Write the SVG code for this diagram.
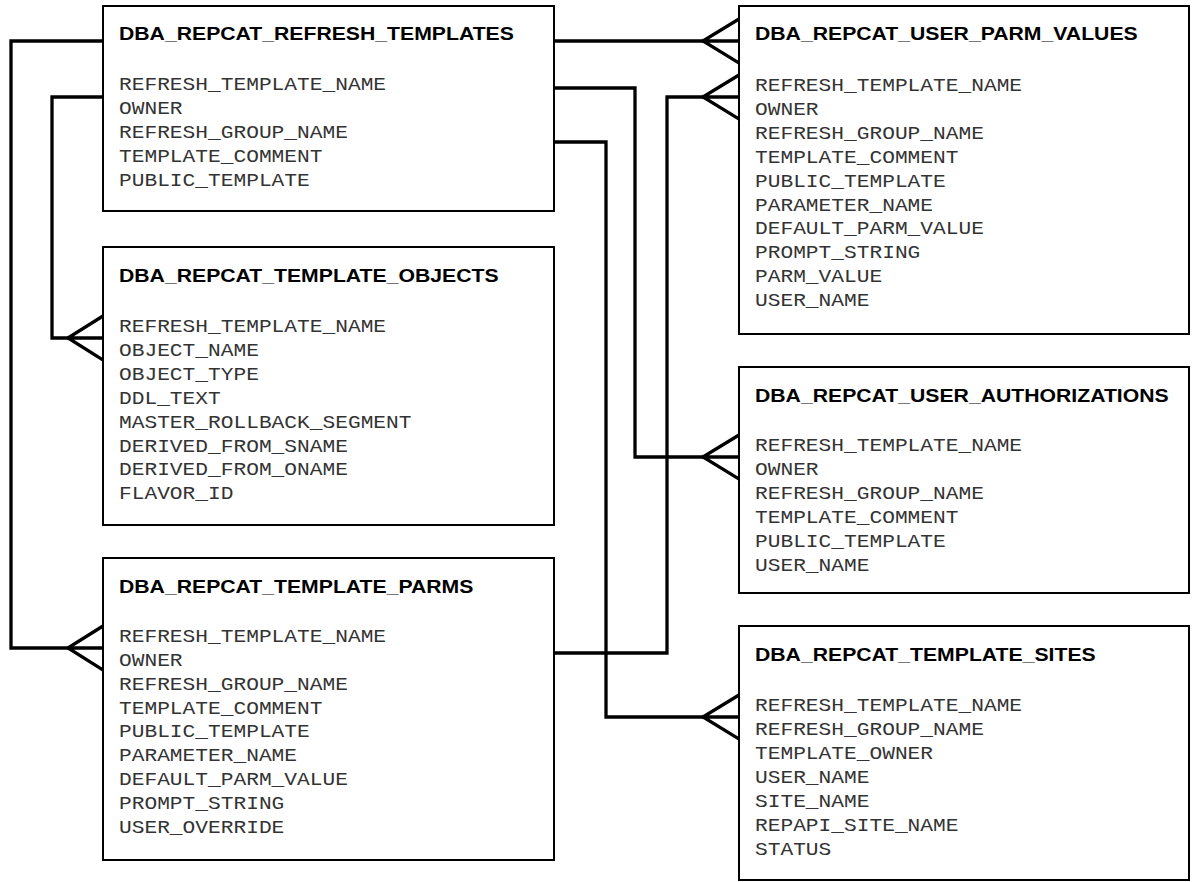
<svg xmlns="http://www.w3.org/2000/svg" width="1192" height="882" viewBox="0 0 1192 882">
<style>
  .box { fill: #ffffff; stroke: #000000; stroke-width: 2; }
  .conn { fill: none; stroke: #000000; stroke-width: 3.3; stroke-linejoin: miter; stroke-linecap: square; }
  .title { font-family: "Liberation Sans", Arial, sans-serif; font-weight: bold; font-size: 18px; fill: #000000; }
  .attr { font-family: "Liberation Mono", "Courier New", monospace; font-size: 18px; fill: #333333; }
</style>
<rect x="0" y="0" width="1192" height="882" fill="#ffffff"/>
<g id="connectors">
  <!-- REFRESH_TEMPLATES -> USER_PARM_VALUES -->
  <path class="conn" d="M554,41 H739 M703,41 L739,19 M703,41 L739,63"/>
  <!-- REFRESH_TEMPLATES -> USER_AUTHORIZATIONS -->
  <path class="conn" d="M554,88 H635 V457 H739 M703,457 L739,435 M703,457 L739,479"/>
  <!-- REFRESH_TEMPLATES -> TEMPLATE_SITES -->
  <path class="conn" d="M554,142 H606 V717 H739 M703,717 L739,695 M703,717 L739,739"/>
  <!-- TEMPLATE_PARMS -> USER_PARM_VALUES -->
  <path class="conn" d="M554,653 H667 V97 H739 M703,97 L739,75 M703,97 L739,119"/>
  <!-- REFRESH_TEMPLATES -> TEMPLATE_PARMS -->
  <path class="conn" d="M103,41 H11 V648 H103 M68,648 L103,626 M68,648 L103,670"/>
  <!-- REFRESH_TEMPLATES -> TEMPLATE_OBJECTS -->
  <path class="conn" d="M103,97 H52 V338 H103 M68,338 L103,316 M68,338 L103,360"/>
</g>
<g id="dba_repcat_refresh_templates">
  <rect class="box" x="103" y="6" width="451" height="205"/>
  <g transform="translate(119,0) scale(1.178,1)">
    <text class="title" x="0" y="40">DBA_REPCAT_REFRESH_TEMPLATES</text>
    <text class="attr"><tspan x="0" y="90">REFRESH_TEMPLATE_NAME</tspan><tspan x="0" y="114">OWNER</tspan><tspan x="0" y="138">REFRESH_GROUP_NAME</tspan><tspan x="0" y="162">TEMPLATE_COMMENT</tspan><tspan x="0" y="186">PUBLIC_TEMPLATE</tspan></text>
  </g>
</g>
<g id="dba_repcat_template_objects">
  <rect class="box" x="103" y="247" width="451" height="278"/>
  <g transform="translate(119,0) scale(1.178,1)">
    <text class="title" x="0" y="282">DBA_REPCAT_TEMPLATE_OBJECTS</text>
    <text class="attr"><tspan x="0" y="332">REFRESH_TEMPLATE_NAME</tspan><tspan x="0" y="356">OBJECT_NAME</tspan><tspan x="0" y="380">OBJECT_TYPE</tspan><tspan x="0" y="404">DDL_TEXT</tspan><tspan x="0" y="428">MASTER_ROLLBACK_SEGMENT</tspan><tspan x="0" y="452">DERIVED_FROM_SNAME</tspan><tspan x="0" y="475">DERIVED_FROM_ONAME</tspan><tspan x="0" y="499">FLAVOR_ID</tspan></text>
  </g>
</g>
<g id="dba_repcat_template_parms">
  <rect class="box" x="103" y="558" width="451" height="302"/>
  <g transform="translate(119,0) scale(1.178,1)">
    <text class="title" x="0" y="593">DBA_REPCAT_TEMPLATE_PARMS</text>
    <text class="attr"><tspan x="0" y="642">REFRESH_TEMPLATE_NAME</tspan><tspan x="0" y="666">OWNER</tspan><tspan x="0" y="690">REFRESH_GROUP_NAME</tspan><tspan x="0" y="714">TEMPLATE_COMMENT</tspan><tspan x="0" y="737">PUBLIC_TEMPLATE</tspan><tspan x="0" y="761">PARAMETER_NAME</tspan><tspan x="0" y="785">DEFAULT_PARM_VALUE</tspan><tspan x="0" y="809">PROMPT_STRING</tspan><tspan x="0" y="833">USER_OVERRIDE</tspan></text>
  </g>
</g>
<g id="dba_repcat_user_parm_values">
  <rect class="box" x="739" y="6" width="450" height="328"/>
  <g transform="translate(755,0) scale(1.178,1)">
    <text class="title" x="0" y="40">DBA_REPCAT_USER_PARM_VALUES</text>
    <text class="attr"><tspan x="0" y="91">REFRESH_TEMPLATE_NAME</tspan><tspan x="0" y="115">OWNER</tspan><tspan x="0" y="139">REFRESH_GROUP_NAME</tspan><tspan x="0" y="163">TEMPLATE_COMMENT</tspan><tspan x="0" y="187">PUBLIC_TEMPLATE</tspan><tspan x="0" y="211">PARAMETER_NAME</tspan><tspan x="0" y="234">DEFAULT_PARM_VALUE</tspan><tspan x="0" y="258">PROMPT_STRING</tspan><tspan x="0" y="282">PARM_VALUE</tspan><tspan x="0" y="306">USER_NAME</tspan></text>
  </g>
</g>
<g id="dba_repcat_user_authorizations">
  <rect class="box" x="739" y="367" width="450" height="226"/>
  <g transform="translate(755,0) scale(1.178,1)">
    <text class="title" x="0" y="402">DBA_REPCAT_USER_AUTHORIZATIONS</text>
    <text class="attr"><tspan x="0" y="451">REFRESH_TEMPLATE_NAME</tspan><tspan x="0" y="475">OWNER</tspan><tspan x="0" y="499">REFRESH_GROUP_NAME</tspan><tspan x="0" y="523">TEMPLATE_COMMENT</tspan><tspan x="0" y="547">PUBLIC_TEMPLATE</tspan><tspan x="0" y="571">USER_NAME</tspan></text>
  </g>
</g>
<g id="dba_repcat_template_sites">
  <rect class="box" x="739" y="626" width="450" height="254"/>
  <g transform="translate(755,0) scale(1.178,1)">
    <text class="title" x="0" y="661">DBA_REPCAT_TEMPLATE_SITES</text>
    <text class="attr"><tspan x="0" y="711">REFRESH_TEMPLATE_NAME</tspan><tspan x="0" y="735">REFRESH_GROUP_NAME</tspan><tspan x="0" y="759">TEMPLATE_OWNER</tspan><tspan x="0" y="783">USER_NAME</tspan><tspan x="0" y="807">SITE_NAME</tspan><tspan x="0" y="831">REPAPI_SITE_NAME</tspan><tspan x="0" y="855">STATUS</tspan></text>
  </g>
</g>
</svg>
